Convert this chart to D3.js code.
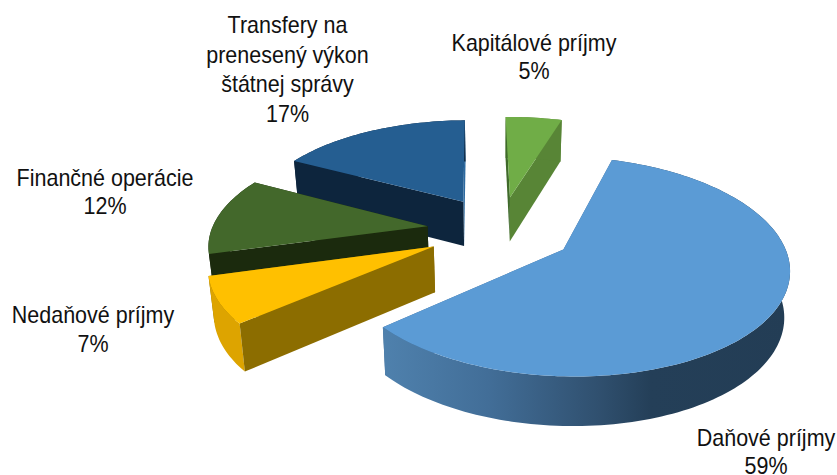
<!DOCTYPE html>
<html><head><meta charset="utf-8">
<script src="https://cdn.jsdelivr.net/npm/d3@7/dist/d3.min.js"></script>
<style>html,body{margin:0;background:#fff}svg{display:block}</style></head>
<body><svg id="c" width="837" height="475"></svg>
<script>
const categories=["Daňové príjmy","Nedaňové príjmy","Finančné operácie","Transfery na prenesený výkon štátnej správy","Kapitálové príjmy"];
const shares=[59,7,12,17,5];
const labelLines=[["Daňové príjmy","59%"],["Nedaňové príjmy","7%"],["Finančné operácie","12%"],["Transfery na","prenesený výkon","štátnej správy","17%"],["Kapitálové príjmy","5%"]];
const labelAnchors=[[766,446],[93,323],[105,186],[287.5,33],[534,51]];
const labelGaps=[28.5,29,28,29.7,28];
const topColors=["#5B9BD5","#FFC000","#43682B","#255E91","#70AD47"];
const startWallColors=["#3f6a94","#8C6D00","#1B2A0D","#0D253D","#3f6a2a"];
const endWallColors=["#3f6a94","#8C6D00","#1B2A0D","#2C6AA0","#588536"];
const rimColors=["url(#rim)","#DDA400","#1B2A0D","#0D253D","#588536"];
const paintOrder=[3,4,2,1,0];

const view={cx:500.2,cy:230,A:216,B:101.5,k:0.15,start:0.297,explode:0.34,depth:45,shrink:0.98};
const svg=d3.select("#c");
const g=svg.append("defs").append("linearGradient").attr("id","rim").attr("gradientUnits","userSpaceOnUse")
  .attr("x1",382).attr("x2",790).attr("y1",0).attr("y2",0);
[[0,"#4F81AD"],[0.26,"#426E98"],[0.53,"#30506F"],[0.66,"#243F58"],[1,"#233D55"]].forEach(s=>g.append("stop").attr("offset",s[0]).attr("stop-color",s[1]));

const pie=d3.pie().sort(null).value(d=>d).startAngle(view.start).endAngle(view.start+2*Math.PI);
const arcs=pie(shares);
const line=d3.line();
function topPoint(px,py){const w=1-view.k*py;return [view.cx+view.A*px/w,view.cy+view.B*py/w,w];}
function low(p){return [view.cx+(p[0]-view.cx)*view.shrink,p[1]+view.depth/Math.sqrt(p[2])];}
function slice(a){
  const m=(a.startAngle+a.endAngle)/2,ox=view.explode*Math.sin(m),oy=-view.explode*Math.cos(m);
  const at=t=>topPoint(ox+Math.sin(t),oy-Math.cos(t));
  const n=Math.max(8,Math.ceil((a.endAngle-a.startAngle)*40));
  const rim=d3.range(n+1).map(i=>at(a.startAngle+(a.endAngle-a.startAngle)*i/n));
  return {apex:topPoint(ox,oy),rim};
}
const face=(pts)=>line(pts.map(p=>[p[0],p[1]]))+"Z";
const layer=svg.append("g");
paintOrder.forEach(i=>{
  const s=slice(arcs[i]),r=s.rim,first=r[0],last=r[r.length-1];
  layer.append("path").attr("d",face([s.apex,last,low(last),low(s.apex)])).attr("fill",endWallColors[i]);
  layer.append("path").attr("d",face(r.concat(r.map(low).reverse()))).attr("fill",rimColors[i]);
  layer.append("path").attr("d",face([s.apex,first,low(first),low(s.apex)])).attr("fill",startWallColors[i]);
  layer.append("path").attr("d",face([s.apex].concat(r))).attr("fill",topColors[i]);
});
labelLines.forEach((ls,i)=>{
  const t=svg.append("text").attr("text-anchor","middle").attr("font-family","'Liberation Sans',Arial,sans-serif").attr("font-size",23).attr("fill","#111")
    .attr("transform",`translate(${labelAnchors[i][0]},0) scale(0.935,1)`);
  ls.forEach((l,j)=>t.append("tspan").attr("x",0).attr("y",labelAnchors[i][1]+j*labelGaps[i]).text(l));
});
</script></body></html>
